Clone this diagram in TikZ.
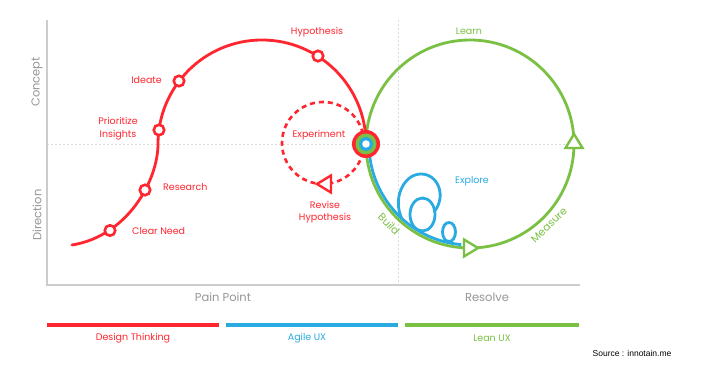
\documentclass[tikz,border=0pt]{standalone}
\usepackage{fontspec}
\setmainfont{Poppins}
\newfontfamily\srcfont{Liberation Sans}
\definecolor{dtred}{RGB}{255,38,48}
\definecolor{agblue}{RGB}{41,171,226}
\definecolor{lngreen}{RGB}{122,193,67}
\definecolor{axgray}{RGB}{204,204,204}
\definecolor{txgray}{RGB}{150,150,150}
\definecolor{gridgray}{RGB}{218,218,218}
\begin{document}
\begin{tikzpicture}[x=1pt,y=-1pt,
  ring/.style={circle, draw=dtred, line width=2.6pt, fill=white, inner sep=0pt, minimum size=10.5pt},
  lbl/.style={font=\fontsize{9.5}{12.5}\selectfont, inner sep=0pt, align=center},
  redtxt/.style={lbl, text=dtred},
  bluetxt/.style={lbl, text=agblue},
  greentxt/.style={lbl, text=lngreen},
  arctxt/.style={font=\fontsize{10.5}{12}\selectfont, inner sep=0pt, text=lngreen},
  axtxt/.style={font=\fontsize{11.5}{13}\selectfont, inner sep=0pt, text=txgray},
  redline/.style={draw=dtred, line width=2.8pt},
  blueline/.style={draw=agblue, line width=2.8pt},
  greenline/.style={draw=lngreen, line width=2.8pt},
  gridline/.style={draw=gridgray, line width=0.6pt, dash pattern=on 2pt off 2pt},
  axisline/.style={draw=axgray, line width=1.3pt},
  bar/.style={line width=4pt},
  tri/.style={line width=2.4pt, fill=white, line join=miter}]
\fill[white] (0,0) rectangle (704,371);
\useasboundingbox (0,0) rectangle (704,371);
% coordinates
\coordinate (axtop) at (47,20);
\coordinate (axorigin) at (47,285);
\coordinate (axright) at (580,285);
\coordinate (gl) at (47,144);
\coordinate (gr) at (580,144);
\coordinate (gt) at (398,20);
\coordinate (gb) at (398,285);
% grid and axes
\draw[gridline] (gl) -- (gr);
\draw[gridline] (gt) -- (gb);
\draw[axisline] (axtop) -- (axorigin) -- (axright);
% axis labels
\node[axtxt, rotate=90] (concept) at (37,82) {Concept};
\node[axtxt, rotate=90] (direction) at (37,215) {Direction};
\node[axtxt] (pain) at (223,297) {Pain Point};
\node[axtxt] (resolve) at (487,297) {Resolve};
% green lean loop
\coordinate (lncenter) at (470,144);
\draw[greenline] (lncenter) circle[radius=104];
% blue agile path
\coordinate (agstart) at (369,144);
\draw[blueline] (agstart) arc[start angle=180, end angle=95, radius=101];
\draw[blueline] (402,219) .. controls (392,198) and (404,174) .. (421,174)
  .. controls (438,174) and (447,196) .. (434,212);
\draw[blueline] (422.5,214.5) ellipse[x radius=12.5, y radius=16.5];
\draw[blueline] (449,232) ellipse[x radius=6.5, y radius=9.5];
% red dashed experiment loop
\coordinate (excenter) at (323,143);
\draw[draw=dtred, line width=2.6pt, dash pattern=on 5pt off 4pt] (excenter) circle[radius=41];
% red design thinking path
\coordinate (dtstart) at (72,245);
\draw[redline, line cap=round] (dtstart) .. controls (128,236) and (158,180) .. (158,144)
  arc[start angle=180, end angle=360, radius=104];
% markers on the red path
\node[ring] (clearneed) at (110,230.5) {};
\node[ring] (research) at (145,190) {};
\node[ring] (prioritize) at (159,130) {};
\node[ring] (ideate) at (179,81) {};
\node[ring] (hypo) at (318,56) {};
% arrow triangles
\draw[tri, draw=dtred] (317,184) -- (331,175.5) -- (331,192.5) -- cycle;
\draw[tri, draw=lngreen] (478,248) -- (464,239.5) -- (464,256.5) -- cycle;
\draw[tri, draw=lngreen] (574,134) -- (582.5,148) -- (565.5,148) -- cycle;
% hub
\node[circle, fill=dtred, inner sep=0pt, minimum size=28pt] (hub) at (366,144) {};
\node[circle, fill=lngreen, inner sep=0pt, minimum size=21pt] (hubgreen) at (hub) {};
\node[circle, fill=agblue, inner sep=0pt, minimum size=14pt] (hubblue) at (hub) {};
\node[circle, fill=white, inner sep=0pt, minimum size=7.5pt] (hubwhite) at (hub) {};
% red labels
\node[redtxt] (thypo) at (317,32) {Hypothesis};
\node[redtxt, anchor=east] (tideate) at (162,80) {Ideate};
\node[redtxt] (tprior) at (118,128.5) {Prioritize\\Insights};
\node[redtxt, anchor=west] (tresearch) at (163,187) {Research};
\node[redtxt, anchor=west] (tclear) at (132,231) {Clear Need};
\node[redtxt] (texp) at (319,135) {Experiment};
\node[redtxt] (trevise) at (325,212) {Revise\\Hypothesis};
% green and blue labels
\node[greentxt] (tlearn) at (469,31) {Learn};
\node[bluetxt] (texplore) at (472,181) {Explore};
\node[arctxt, rotate=-46] (tbuild) at (389,224) {Build};
\node[arctxt, rotate=44] (tmeasure) at (549,225) {Measure};
% legend bars
\coordinate (b1a) at (47,325); \coordinate (b1b) at (219,325);
\coordinate (b2a) at (226,325); \coordinate (b2b) at (398,325);
\coordinate (b3a) at (405,325); \coordinate (b3b) at (579,325);
\draw[bar, dtred] (b1a) -- (b1b);
\draw[bar, agblue] (b2a) -- (b2b);
\draw[bar, lngreen] (b3a) -- (b3b);
\node[redtxt] (tdesign) at (133,338) {Design Thinking};
\node[bluetxt] (tagile) at (307,338) {Agile UX};
\node[greentxt] (tlean) at (492,338) {Lean UX};
\node[font=\srcfont\fontsize{8.5}{10}\selectfont, inner sep=0pt] (source) at (632,353) {Source : innotain.me};
\end{tikzpicture}
\end{document}
